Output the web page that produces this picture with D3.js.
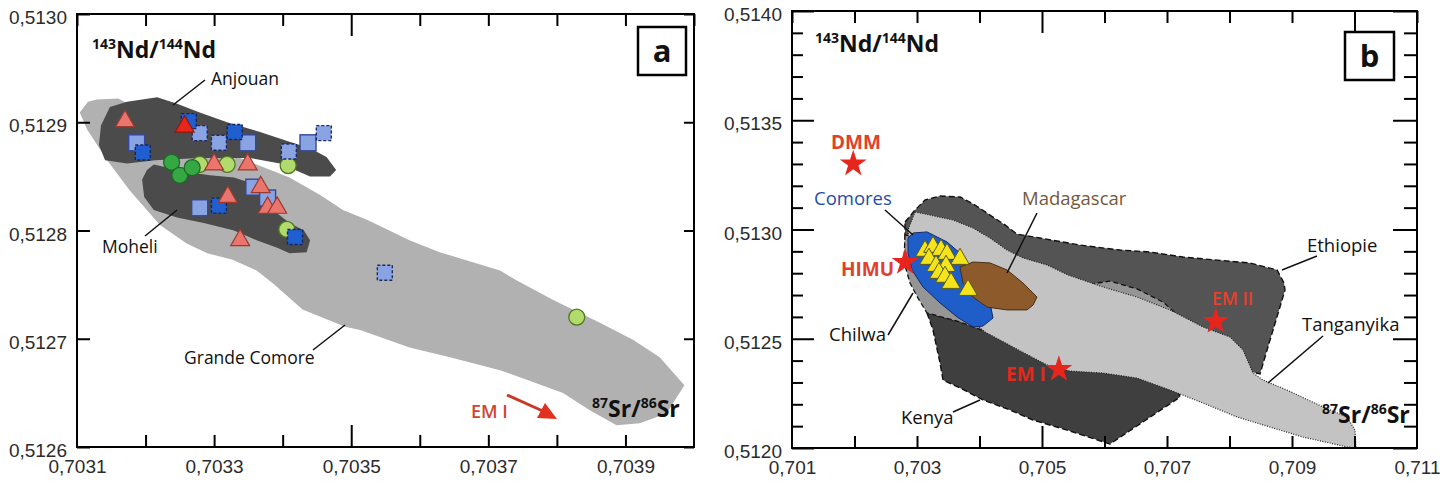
<!DOCTYPE html>
<html><head><meta charset="utf-8">
<script src="https://cdn.jsdelivr.net/npm/d3@7"></script>
<style>body{margin:0;background:#fff;} svg{display:block;}</style>
</head><body>
<svg id="c" width="1453" height="487"></svg>
<script>
// ---------- Panel a data ----------
const xTicksA = [0.7031,0.7032,0.7033,0.7034,0.7035,0.7036,0.7037,0.7038,0.7039,0.7040];
const xLabelsA = [0.7031,0.7033,0.7035,0.7037,0.7039];
const yTicksA = [0.5126,0.5127,0.5128,0.5129,0.5130];
const grandeComore = [[0.703104,0.512909],[0.703116,0.512919],[0.703129,0.512921],[0.703160,0.512922],[0.703236,0.512897],[0.703338,0.512867],[0.703410,0.512849],[0.703454,0.512833],[0.703488,0.512819],[0.703523,0.512810],[0.703585,0.512791],[0.703629,0.512780],[0.703717,0.512763],[0.703741,0.512754],[0.703794,0.512736],[0.703862,0.512715],[0.703911,0.512699],[0.703950,0.512683],[0.703986,0.512657],[0.703960,0.512631],[0.703921,0.512622],[0.703887,0.512620],[0.703848,0.512634],[0.703809,0.512650],[0.703765,0.512660],[0.703717,0.512671],[0.703644,0.512683],[0.703585,0.512692],[0.703513,0.512708],[0.703491,0.512711],[0.703429,0.512727],[0.703386,0.512751],[0.703362,0.512763],[0.703327,0.512773],[0.703290,0.512779],[0.703260,0.512788],[0.703221,0.512805],[0.703177,0.512837],[0.703144,0.512865],[0.703115,0.512893]];
const anjouan = [[0.703148,0.512914],[0.703173,0.512919],[0.703217,0.512923],[0.703246,0.512917],[0.703279,0.512909],[0.703319,0.512900],[0.703367,0.512891],[0.703410,0.512882],[0.703440,0.512876],[0.703464,0.512868],[0.703478,0.512856],[0.703469,0.512850],[0.703440,0.512850],[0.703396,0.512862],[0.703352,0.512867],[0.703279,0.512867],[0.703214,0.512865],[0.703173,0.512862],[0.703141,0.512865],[0.703132,0.512879],[0.703135,0.512897]];
const moheli = [[0.703212,0.512861],[0.703260,0.512854],[0.703294,0.512851],[0.703329,0.512849],[0.703348,0.512845],[0.703373,0.512828],[0.703392,0.512816],[0.703410,0.512807],[0.703431,0.512800],[0.703440,0.512791],[0.703435,0.512780],[0.703410,0.512779],[0.703392,0.512784],[0.703362,0.512791],[0.703329,0.512800],[0.703285,0.512807],[0.703246,0.512812],[0.703212,0.512819],[0.703198,0.512831],[0.703195,0.512847],[0.703202,0.512856]];
const salmonTriangles = [[0.703170,0.512901],[0.703300,0.512861],[0.703349,0.512861],[0.703368,0.512840],[0.703320,0.512831],[0.703378,0.512821],[0.703392,0.512821],[0.703338,0.512791]];
const redTriangles = [[0.703257,0.512896]];
const lightSquares = [[0.703187,0.512881],[0.703349,0.512881],[0.703437,0.512881],[0.703358,0.512840],[0.703279,0.512821],[0.703378,0.512830]];
const darkSquaresDashed = [[0.703196,0.512872],[0.703330,0.512891],[0.703307,0.512823],[0.703418,0.512794],[0.703263,0.512901]];
const lightSquaresDashed = [[0.703279,0.512890],[0.703307,0.512881],[0.703460,0.512890],[0.703409,0.512873],[0.703549,0.512761]];
const darkCircles = [[0.703238,0.512863],[0.703250,0.512851],[0.703268,0.512858]];
const lightCircles = [[0.703279,0.512861],[0.703319,0.512861],[0.703408,0.512860],[0.703406,0.512801],[0.703829,0.512720]];

// ---------- Panel b data ----------
const xTicksB = [0.701,0.702,0.703,0.704,0.705,0.706,0.707,0.708,0.709,0.710,0.711];
const xLabelsB = [0.701,0.703,0.705,0.707,0.709,0.711];
const yTicksB = [0.5120,0.5121,0.5122,0.5123,0.5124,0.5125,0.5126,0.5127,0.5128,0.5129,0.5130,0.5131,0.5132,0.5133,0.5134,0.5135,0.5136,0.5137,0.5138,0.5139,0.5140];
const yLabelsB = [0.5120,0.5125,0.5130,0.5135,0.5140];
const ethiopie = [[0.702808,0.513034],[0.702968,0.513089],[0.703128,0.513135],[0.703368,0.513153],[0.703688,0.513149],[0.703928,0.513112],[0.704168,0.513066],[0.704408,0.513021],[0.704600,0.512979],[0.704968,0.512961],[0.705608,0.512929],[0.706248,0.512906],[0.706728,0.512897],[0.707256,0.512874],[0.707800,0.512860],[0.708328,0.512847],[0.708760,0.512815],[0.708872,0.512755],[0.708888,0.512723],[0.708760,0.512600],[0.708648,0.512494],[0.708488,0.512339],[0.707528,0.512403],[0.705928,0.512586],[0.704328,0.512760],[0.703208,0.512906],[0.702808,0.512929]];
const kenya = [[0.703160,0.512618],[0.703256,0.512540],[0.703368,0.512389],[0.703416,0.512311],[0.703688,0.512275],[0.704056,0.512220],[0.704488,0.512174],[0.704856,0.512128],[0.705400,0.512082],[0.706088,0.512018],[0.707208,0.512233],[0.707128,0.512311],[0.705928,0.512403],[0.704328,0.512517],[0.703688,0.512577]];
const chilwa = [[0.702808,0.512975],[0.702792,0.512851],[0.702888,0.512755],[0.703016,0.512686],[0.703160,0.512618],[0.703688,0.512577],[0.704168,0.512526],[0.704648,0.512471],[0.705928,0.512449],[0.707368,0.512558],[0.706936,0.512668],[0.706520,0.512728],[0.706088,0.512764],[0.705800,0.512751],[0.705128,0.512723],[0.704328,0.512746],[0.703688,0.512838],[0.703208,0.512952]];
const tanganyika = [[0.702968,0.513080],[0.703208,0.513066],[0.703576,0.513043],[0.703896,0.513007],[0.704168,0.512961],[0.704440,0.512906],[0.704696,0.512870],[0.705080,0.512838],[0.705416,0.512792],[0.705976,0.512737],[0.706520,0.512691],[0.707048,0.512632],[0.707576,0.512554],[0.708008,0.512508],[0.708216,0.512449],[0.708376,0.512343],[0.708536,0.512311],[0.708920,0.512265],[0.709496,0.512188],[0.709880,0.512142],[0.710008,0.512082],[0.710024,0.512000],[0.709880,0.512005],[0.709176,0.512050],[0.708648,0.512096],[0.708120,0.512142],[0.707576,0.512206],[0.707048,0.512265],[0.706520,0.512320],[0.705976,0.512343],[0.705448,0.512352],[0.705080,0.512380],[0.704536,0.512462],[0.704088,0.512531],[0.703688,0.512632],[0.703208,0.512769],[0.702888,0.512883],[0.702856,0.512998]];
const comores = [[0.702856,0.512961],[0.702936,0.512984],[0.703160,0.512989],[0.703480,0.512943],[0.703688,0.512892],[0.703896,0.512815],[0.704008,0.512755],[0.704168,0.512664],[0.704216,0.512595],[0.704056,0.512558],[0.703896,0.512554],[0.703640,0.512600],[0.703368,0.512664],[0.703096,0.512737],[0.702920,0.512815],[0.702856,0.512892]];
const madagascar = [[0.703688,0.512828],[0.703896,0.512851],[0.704168,0.512847],[0.704440,0.512815],[0.704696,0.512755],[0.704920,0.512691],[0.704856,0.512654],[0.704760,0.512632],[0.704440,0.512632],[0.704120,0.512645],[0.703896,0.512691],[0.703736,0.512755]];
const comoresTriangles = [[0.703128,0.512902],[0.703256,0.512920],[0.703384,0.512906],[0.703480,0.512888],[0.703192,0.512865],[0.703688,0.512865],[0.703304,0.512833],[0.703464,0.512833],[0.703352,0.512801],[0.703448,0.512783],[0.703544,0.512755],[0.703816,0.512723]];
const endMemberNames = ["DMM","HIMU","EM I","EM II"];
const endMemberSr = [0.70198,0.70281,0.70527,0.70778];
const endMemberNd = [0.51330,0.51285,0.51236,0.51258];

// ---------- drawing ----------
const svg = d3.select("#c");
const fmt4 = v => d3.format(".4f")(v).replace(".", ",");
const fmt3 = v => d3.format(".3f")(v).replace(".", ",");
const TICKFONT = "'Liberation Sans', Arial, sans-serif";
const LBLFONT = "'Open Sans', 'Noto Sans', sans-serif";

const xA = d3.scaleLinear().domain([0.7031,0.7040]).range([77,694]);
const yA = d3.scaleLinear().domain([0.5126,0.5130]).range([447,14]);
const xB = d3.scaleLinear().domain([0.701,0.711]).range([792,1417]);
const yB = d3.scaleLinear().domain([0.5120,0.5140]).range([448,11]);

function near(a,b){return Math.abs(a-b)<1e-9;}

function styleAxis(g){
  g.select(".domain").remove();
  g.selectAll(".tick line").attr("stroke","#000").attr("stroke-width",2);
  g.selectAll(".tick text").attr("font-family",TICKFONT).attr("font-size",19).attr("fill","#2b2b2b");
}

function drawAxes(x, y, xTicks, xLabels, yTicks, yLabels, fx, fy, longX, cfg){
  const [x0,x1] = x.range(), [y0,y1] = y.range();
  const lab = (arr,f) => v => arr.some(a=>near(a,v)) ? f(v) : "";
  const gb = svg.append("g").attr("transform",`translate(0,${y0})`)
    .call(d3.axisBottom(x).tickValues(xTicks).tickSize(-12).tickSizeOuter(0).tickPadding(13).tickFormat(lab(xLabels,fx)));
  styleAxis(gb);
  gb.selectAll(".tick line").attr("y2", d => near(d,longX) ? -22 : -12);
  gb.selectAll(".tick").filter(d=>near(d,xTicks[0])||near(d,xTicks[xTicks.length-1])).select("line").remove();
  const gt = svg.append("g").attr("transform",`translate(0,${y1})`)
    .call(d3.axisTop(x).tickValues(xTicks).tickSize(-12).tickSizeOuter(0).tickFormat(""));
  styleAxis(gt);
  gt.selectAll(".tick line").attr("y2", d => near(d,longX) ? 22 : (cfg.topLong && near(d,cfg.topLong) ? cfg.topLongLen : 12));
  const gl = svg.append("g").attr("transform",`translate(${x0},0)`)
    .call(d3.axisLeft(y).tickValues(yTicks).tickSize(-cfg.leftMinor).tickSizeOuter(0).tickPadding(10).tickFormat(lab(yLabels,fy)));
  styleAxis(gl);
  gl.selectAll(".tick line").attr("x2", d => yLabels.some(a=>near(a,d)) ? cfg.leftMajor : cfg.leftMinor);
  gl.selectAll(".tick text").attr("x",-10).attr("dy","0.5em");
  const gr = svg.append("g").attr("transform",`translate(${x1},0)`)
    .call(d3.axisRight(y).tickValues(yTicks).tickSize(-cfg.rightMinor).tickSizeOuter(0).tickFormat(""));
  styleAxis(gr);
  gr.selectAll(".tick line").attr("x2", d => yLabels.some(a=>near(a,d)) ? -cfg.rightMajor : -cfg.rightMinor);
}

function frame(x,y){
  const [x0,x1]=x.range(), [y0,y1]=y.range();
  svg.append("rect").attr("x",x0).attr("y",y1).attr("width",x1-x0).attr("height",y0-y1)
    .attr("fill","none").attr("stroke","#000").attr("stroke-width",2);
}

function poly(data, x, y, fill, stroke, sw, dash){
  const line = d3.line().x(d=>x(d[0])).y(d=>y(d[1])).curve(d3.curveLinearClosed);
  svg.append("path").attr("d", line(data)).attr("fill",fill)
    .attr("stroke", stroke||"none").attr("stroke-width", sw||0)
    .attr("stroke-dasharray", dash||null).attr("stroke-linejoin","round");
}

function symbols(data, x, y, type, size, fill, stroke, sw, dash){
  svg.append("g").selectAll("path").data(data).join("path")
    .attr("transform", d=>`translate(${x(d[0])},${y(d[1])})`)
    .attr("d", d3.symbol().type(type).size(size)())
    .attr("fill",fill).attr("stroke",stroke).attr("stroke-width",sw).attr("stroke-dasharray",dash||null);
}
function squares(data, x, y, s, fill, stroke, dash){
  svg.append("g").selectAll("rect").data(data).join("rect")
    .attr("x", d=>x(d[0])-s/2).attr("y", d=>y(d[1])-s/2).attr("width",s).attr("height",s)
    .attr("fill",fill).attr("stroke",stroke).attr("stroke-width",1.4).attr("stroke-dasharray",dash||null);
}
function circles(data, x, y, r, fill, stroke){
  svg.append("g").selectAll("circle").data(data).join("circle")
    .attr("cx", d=>x(d[0])).attr("cy", d=>y(d[1])).attr("r",r)
    .attr("fill",fill).attr("stroke",stroke).attr("stroke-width",1.3);
}
function text(t, px, py, opts){
  opts = opts||{};
  return svg.append("text").attr("x",px).attr("y",py).text(t)
    .attr("font-family", opts.family||LBLFONT).attr("font-size", opts.size||16)
    .attr("font-weight", opts.weight||400).attr("fill", opts.fill||"#111")
    .attr("text-anchor", opts.anchor||"start");
}
function leader(x1,y1,x2,y2){
  svg.append("line").attr("x1",x1).attr("y1",y1).attr("x2",x2).attr("y2",y2)
    .attr("stroke","#111").attr("stroke-width",1.5);
}
function ratioLabel(px, py, a, el1, b, el2){
  const t = svg.append("text").attr("x",px).attr("y",py)
    .attr("font-family",LBLFONT).attr("font-weight",700).attr("fill","#111");
  t.append("tspan").attr("font-size",14).attr("dy",-9).text(a);
  t.append("tspan").attr("font-size",23).attr("dy",9).text(el1 + "/");
  t.append("tspan").attr("font-size",14).attr("dy",-9).text(b);
  t.append("tspan").attr("font-size",23).attr("dy",9).text(el2);
}
function panelBox(x0,y0,w,h,letter){
  svg.append("rect").attr("x",x0).attr("y",y0).attr("width",w).attr("height",h)
    .attr("fill","#fff").attr("stroke","#000").attr("stroke-width",2.5);
  text(letter, x0+w/2, y0+h/2+11, {size:31, weight:700, anchor:"middle", family:LBLFONT});
}

// ===== Panel a =====
poly(grandeComore, xA, yA, "#b1b1b1");
poly(anjouan, xA, yA, "#4b4b4b");
poly(moheli, xA, yA, "#4b4b4b");
circles(lightCircles, xA, yA, 8, "#b2da6c", "#4d7a22");
circles(darkCircles, xA, yA, 8, "#35a844", "#1d6a24");
squares(lightSquares, xA, yA, 16, "#8aa3e3", "#34489a");
squares(lightSquaresDashed, xA, yA, 15, "#8aa3e3", "#1c2a66", "3,2");
squares(darkSquaresDashed, xA, yA, 15, "#1f5fcf", "#16245e", "3,2");
symbols(salmonTriangles, xA, yA, d3.symbolTriangle, 155, "#e9756c", "#9a3a30", 1.2);
symbols(redTriangles, xA, yA, d3.symbolTriangle, 155, "#e8261c", "#8a1a10", 1.2);

frame(xA, yA);
drawAxes(xA, yA, xTicksA, xLabelsA, yTicksA, yTicksA, fmt4, fmt4, 0.7035,
  {leftMajor:13, leftMinor:13, rightMajor:10, rightMinor:10});

ratioLabel(92, 58, "143", "Nd", "144", "Nd");
ratioLabel(592, 417, "87", "Sr", "86", "Sr");
panelBox(638, 27, 48, 48, "a");

text("Anjouan", 211, 85, {size:17.5});
leader(173,105,205,80);
text("Moheli", 102, 253, {size:17.5});
leader(145,236,177,210);
text("Grande Comore", 184, 364, {size:17.5});
leader(313,350,345,325);
text("EM I", 471, 418, {size:18, weight:600, fill:"#d0442f"});
svg.append("line").attr("x1",507).attr("y1",395).attr("x2",545).attr("y2",412)
  .attr("stroke","#c83a28").attr("stroke-width",3);
svg.append("path").attr("d","M557,419 L537,418 L545,403 Z").attr("fill","#e0301f");

// ===== Panel b =====
poly(ethiopie, xB, yB, "#545454", "#111", 1.4, "6,3");
poly(kenya, xB, yB, "#3f3f3f", "#111", 1.4, "6,3");
poly(chilwa, xB, yB, "#959595", "#111", 1.3, "5,3");
poly(tanganyika, xB, yB, "#c3c3c3", "#222", 1.2, "1,1.5");
poly(comores, xB, yB, "#1f5ec8", "#132a6a", 1);
poly(madagascar, xB, yB, "#8d5a2c", "#4a2e12", 1);
symbols(comoresTriangles, xB, yB, d3.symbolTriangle, 150, "#f5e41a", "#5b5a1a", 1);

const emPts = endMemberNames.map((n,i)=>[endMemberSr[i], endMemberNd[i], n]);
symbols(emPts, xB, yB, d3.symbolStar, 225, "#e8251d", "none", 0);

frame(xB, yB);
drawAxes(xB, yB, xTicksB, xLabelsB, yTicksB, yLabelsB, fmt3, fmt4, 0.705,
  {leftMajor:22, leftMinor:11, rightMajor:24, rightMinor:13, topLong:0.710, topLongLen:21});

ratioLabel(815, 52, "143", "Nd", "144", "Nd");
ratioLabel(1322, 423, "87", "Sr", "86", "Sr");
panelBox(1345, 32, 49, 48, "b");

text("DMM", 856, 149, {size:19, weight:700, fill:"#e0402c", anchor:"middle"});
text("HIMU", 894, 276, {size:19, weight:700, fill:"#e0402c", anchor:"end"});
text("EM I", 1006, 381, {size:19, weight:700, fill:"#e02a1e"});
text("EM II", 1212, 305, {size:17.5, weight:600, fill:"#e8402c"});
text("Comores", 814, 205, {size:18.5, fill:"#1f4ea6"});
leader(885,210,913,235);
text("Madagascar", 1022, 205, {size:18.5, fill:"#73583b"});
leader(1037,213,1007,273);
text("Ethiopie", 1307, 252, {size:18.5});
leader(1317,256,1282,270);
text("Tanganyika", 1302, 331, {size:18.5});
leader(1323,336,1268,383);
text("Chilwa", 829, 341, {size:18.5});
leader(888,335,913,293);
text("Kenya", 901, 424, {size:18.5});
leader(953,412,980,400);
</script>
</body></html>
